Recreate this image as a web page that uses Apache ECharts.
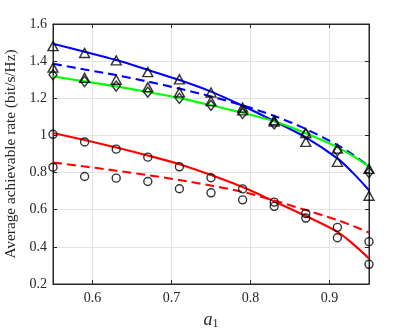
<!DOCTYPE html>
<html><head><meta charset="utf-8">
<script src="https://cdn.jsdelivr.net/npm/echarts@6/dist/echarts.min.js"></script>
<style>html,body{margin:0;padding:0;background:#fff}#c{width:407px;height:328px}</style>
</head><body><div id="c"></div>
<script>
// x positions of curves and of the simulated markers
const xLine = [0.55,0.59,0.63,0.67,0.71,0.75,0.79,0.83,0.87,0.91,0.93,0.95];
const xMarks = [0.55,0.59,0.63,0.67,0.71,0.75,0.79,0.83,0.87,0.91,0.95];

// analytical curves
const yBlueSolid = [1.494,1.451,1.406,1.353,1.298,1.236,1.160,1.077,0.990,0.876,0.797,0.705];
const yBlueDash  = [1.386,1.355,1.325,1.290,1.252,1.210,1.162,1.105,1.035,0.948,0.895,0.834];
const yGreen     = [1.318,1.291,1.264,1.234,1.201,1.163,1.122,1.076,1.012,0.937,0.888,0.832];
const yRedSolid  = [1.013,0.975,0.935,0.892,0.845,0.787,0.722,0.645,0.566,0.481,0.415,0.338];
const yRedDash   = [0.854,0.833,0.810,0.786,0.760,0.730,0.696,0.650,0.598,0.544,0.512,0.477];

// simulated markers
const triUpper  = [1.481,1.444,1.404,1.341,1.302,1.231,1.150,1.075,0.965,0.858,0.675];
const triLower  = [1.365,1.310,1.300,1.260,1.232,1.185,1.135,1.082,1.013,0.929,0.820];
const diamonds  = [1.327,1.290,1.266,1.233,1.200,1.162,1.118,1.062,1.008,0.917,0.800];
const circUpper = [1.006,0.965,0.926,0.883,0.831,0.772,0.712,0.641,0.555,0.449,0.306];
const circLower = [0.829,0.779,0.770,0.752,0.713,0.691,0.653,0.618,0.580,0.505,0.428];

const xTicks = [0.6,0.7,0.8,0.9];

const FONT = '"Liberation Serif", "DejaVu Serif", serif';
const AX = '#262626';

function zip(xs, ys){ return xs.map((x,i)=>[x, ys[i]]); }
function lineS(ys, color, dashed){
  return {type:'line', data: zip(xLine, ys), smooth: 0.3, showSymbol:false, symbol:'none',
    lineStyle:{color, width:2.1, type: dashed ? [9,5] : 'solid'}, z:2, silent:true, animation:false};
}
function markS(ys, symbol, size){
  return {type:'scatter', data: zip(xMarks, ys), symbol, symbolSize:size,
    itemStyle:{color:'rgba(0,0,0,0)', borderColor:'#000', borderWidth:1.4}, z:5, silent:true, animation:false};
}

const chart = echarts.init(document.getElementById('c'), null, {renderer:'canvas'});
chart.setOption({
  animation:false,
  backgroundColor:'#fff',
  grid:{left:53, right:38, top:24, bottom:44, outerBoundsMode:'none', containLabel:false,
        show:true, borderColor:AX, borderWidth:1, backgroundColor:'#fff'},
  xAxis:[{
    type:'value', min:0.55, max:0.95, splitNumber:4,
    axisLine:{show:true, lineStyle:{color:AX, width:1}},
    axisTick:{show:true, inside:true, length:4, lineStyle:{color:AX}},
    axisLabel:{showMinLabel:false, showMaxLabel:false, color:AX, fontFamily:FONT, fontSize:14, margin:7,
      formatter:v => xTicks.some(t=>Math.abs(t-v)<1e-6) ? v.toFixed(1) : ''},
    splitLine:{show:true, lineStyle:{color:'#e3e3e3', width:1}},
    name:'{a|a}{s|1}', nameLocation:'middle', nameGap:26,
    nameTextStyle:{rich:{a:{fontFamily:FONT, fontStyle:'italic', fontSize:18, color:AX},
                         s:{fontFamily:FONT, fontSize:12, color:AX, verticalAlign:'bottom', padding:[8,0,0,0]}}}
  },{
    type:'value', position:'top', min:0.55, max:0.95, splitNumber:4,
    axisLine:{show:true, lineStyle:{color:AX}}, axisTick:{show:true, inside:true, length:4, lineStyle:{color:AX}},
    axisLabel:{show:false}, splitLine:{show:false}
  }],
  yAxis:[{
    type:'value', min:0.2, max:1.6, interval:0.2,
    axisLine:{show:true, lineStyle:{color:AX, width:1}},
    axisTick:{show:true, inside:true, length:4, lineStyle:{color:AX}},
    axisLabel:{color:AX, fontFamily:FONT, fontSize:14, margin:6,
      formatter:v => { const r = Math.round(v*10)/10; return r===1 ? '1' : r.toFixed(1); }},
    splitLine:{show:true, lineStyle:{color:'#e3e3e3', width:1}},
    name:'Average achievable rate (bit/s/Hz)', nameLocation:'middle', nameGap:28, nameRotate:90,
    nameTextStyle:{fontFamily:FONT, fontSize:15.3, color:AX}
  },{
    type:'value', position:'right', min:0.2, max:1.6, interval:0.2,
    axisLine:{show:true, lineStyle:{color:AX}}, axisTick:{show:true, inside:true, length:4, lineStyle:{color:AX}},
    axisLabel:{show:false}, splitLine:{show:false}
  }],
  series:[
    lineS(yBlueSolid, '#0000ff', false),
    lineS(yBlueDash, '#0000ff', true),
    lineS(yGreen, '#00ff00', false),
    lineS(yRedSolid, '#ff0000', false),
    lineS(yRedDash, '#ff0000', true),
    markS(triUpper, 'triangle', [10,9]),
    markS(triLower, 'triangle', [10,9]),
    markS(diamonds, 'diamond', [8,10]),
    markS(circUpper, 'circle', 8),
    markS(circLower, 'circle', 8)
  ]
});
</script></body></html>
